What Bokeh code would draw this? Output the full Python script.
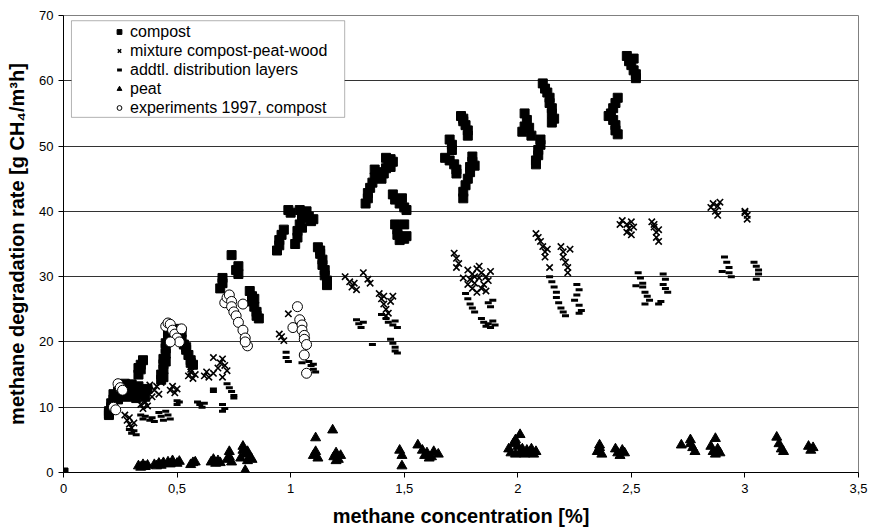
from bokeh.plotting import figure
from bokeh.models import (Legend, LegendItem, FixedTicker, BoxAnnotation)
from bokeh.embed import file_html
from bokeh.resources import INLINE

# ---------------- data ----------------
compost_x = [0.0,
    0.20, 0.20, 0.21, 0.21, 0.22, 0.20, 0.21,
    0.23, 0.24, 0.25, 0.26, 0.27, 0.28, 0.29, 0.30, 0.31, 0.32, 0.33, 0.34, 0.35, 0.26, 0.28, 0.30, 0.32, 0.24, 0.37, 0.36, 0.22,
    0.33, 0.34, 0.34, 0.35, 0.33,
    0.43, 0.43, 0.44, 0.44, 0.44, 0.45, 0.45, 0.45, 0.46, 0.46, 0.47, 0.44, 0.45,
    0.50, 0.51, 0.52, 0.53, 0.54, 0.55, 0.56, 0.57, 0.52, 0.54, 0.56,
    0.69, 0.70, 0.70, 0.74, 0.76, 0.77, 0.77, 0.82, 0.83, 0.83, 0.84, 0.85, 0.85, 0.86, 0.84,
    0.94, 0.95, 0.95, 0.96, 0.97, 0.99, 1.00,
    1.02, 1.03, 1.03, 1.04, 1.05, 1.04, 1.06, 1.08, 1.09, 1.10, 1.07, 1.05,
    1.12, 1.13, 1.14, 1.14, 1.15, 1.15, 1.16, 1.16, 1.13,
    1.33, 1.34, 1.34, 1.35, 1.36, 1.37, 1.38, 1.37,
    1.40, 1.41, 1.42, 1.43, 1.44, 1.45, 1.42, 1.44,
    1.45, 1.46, 1.48, 1.50, 1.51, 1.49,
    1.46, 1.47, 1.47, 1.48, 1.50, 1.51, 1.50,
    1.70, 1.71, 1.71, 1.68, 1.70, 1.72, 1.73, 1.73,
    1.75, 1.76, 1.77, 1.78, 1.78, 1.76,
    1.80, 1.80, 1.79, 1.79, 1.78, 1.77, 1.76, 1.76, 1.81,
    2.03, 2.04, 2.03, 2.02, 2.05, 2.06,
    2.10, 2.10, 2.09, 2.09, 2.08, 2.08,
    2.11, 2.12, 2.13, 2.14, 2.14, 2.15, 2.15, 2.16, 2.15,
    2.44, 2.43, 2.42, 2.41, 2.40, 2.42, 2.43, 2.43, 2.44,
    2.48, 2.49, 2.50, 2.51, 2.52, 2.52, 2.51]
compost_y = [0.0,
    8.8, 9.4, 10.0, 10.6, 11.2, 9.0, 9.8,
    11.8, 12.4, 13.0, 13.4, 13.6, 13.2, 12.8, 13.5, 13.0, 12.4, 13.2, 12.6, 12.0, 12.2, 11.6, 12.0, 11.4, 11.2, 12.8, 11.6, 12.0,
    15.0, 15.8, 16.5, 17.2, 16.0,
    14.2, 15.0, 15.8, 16.6, 17.4, 18.2, 19.0, 19.8, 20.6, 21.4, 22.0, 14.6, 17.0,
    22.0, 21.2, 20.4, 19.6, 18.8, 18.0, 17.2, 16.5, 21.5, 19.2, 16.8,
    28.2, 29.0, 29.8, 33.3, 31.0, 31.6, 30.4, 27.8, 27.0, 26.2, 25.4, 24.6, 24.0, 23.6, 26.6,
    34.0, 34.8, 35.6, 36.4, 37.2, 40.2, 39.8,
    35.0, 36.0, 37.0, 38.0, 39.0, 40.2, 39.8, 39.2, 38.5, 38.8, 40.0, 37.5,
    34.5, 33.5, 32.6, 31.8, 31.0, 30.2, 29.4, 28.7, 34.0,
    41.2, 42.0, 42.8, 43.6, 44.4, 45.2, 46.0, 46.4,
    45.0, 45.8, 46.6, 47.4, 48.0, 47.6, 48.2, 46.8,
    42.6, 41.8, 41.2, 40.6, 40.2, 42.0,
    38.0, 37.2, 36.4, 35.6, 35.8, 36.2, 38.0,
    51.0, 50.2, 49.4, 48.2, 47.8, 47.2, 46.4, 45.8,
    54.6, 53.8, 53.2, 52.4, 51.6, 54.2,
    48.4, 47.6, 46.8, 46.0, 45.0, 44.0, 43.0, 42.0, 47.0,
    55.0, 54.0, 53.0, 52.2, 52.8, 51.6,
    51.0, 50.2, 49.4, 48.6, 47.8, 47.2,
    59.6, 58.8, 58.2, 57.4, 56.6, 55.8, 55.0, 54.2, 53.6,
    57.4, 56.6, 55.8, 55.0, 54.6, 54.0, 53.2, 52.4, 51.8,
    63.8, 63.0, 62.4, 61.6, 61.0, 60.4, 63.4]

mixture_x = [0.27, 0.28, 0.29, 0.30, 0.31, 0.29,
    0.34, 0.35, 0.37, 0.36,
    0.34, 0.36, 0.38, 0.40, 0.41, 0.42, 0.39, 0.43,
    0.47, 0.48, 0.49, 0.50,
    0.55, 0.56, 0.57, 0.58, 0.56,
    0.62, 0.63, 0.64,
    0.66, 0.68, 0.69, 0.70, 0.71, 0.72, 0.70, 0.66,
    0.96, 0.97, 0.95, 0.99, 1.04, 1.05, 1.06, 1.07, 1.05,
    1.24, 1.26, 1.27, 1.28, 1.29,
    1.32, 1.34, 1.35,
    1.39, 1.40, 1.41, 1.42, 1.43, 1.44, 1.45, 1.41, 1.42,
    1.72, 1.73, 1.74, 1.73,
    1.78, 1.80, 1.82, 1.84, 1.86, 1.79, 1.81, 1.83, 1.85, 1.87, 1.80, 1.82, 1.84, 1.86, 1.78, 1.76, 1.88, 1.83, 1.81,
    2.08, 2.09, 2.10, 2.11, 2.12, 2.12, 2.13, 2.14,
    2.19, 2.20, 2.20, 2.21, 2.22, 2.23, 2.22,
    2.46, 2.48, 2.49, 2.50, 2.51, 2.48, 2.50, 2.45,
    2.59, 2.60, 2.61, 2.61, 2.62, 2.60, 2.62,
    2.85, 2.86, 2.87, 2.88, 2.88, 2.89,
    3.00, 3.01, 3.01, 3.00]
mixture_y = [8.8, 8.0, 7.4, 6.8, 7.6, 8.4,
    10.4, 9.8, 10.2, 10.8,
    12.0, 12.8, 13.4, 12.6, 13.2, 12.0, 11.6, 13.8,
    12.6, 13.2, 12.2, 12.8,
    14.8, 15.4, 14.4, 15.0, 15.8,
    14.8, 15.4, 14.6,
    15.2, 16.0, 16.8, 17.4, 16.4, 15.6, 14.6, 17.6,
    20.8, 20.2, 21.2, 24.3, 22.5, 21.8, 21.0, 20.2, 23.0,
    30.0, 29.2, 28.4, 29.0, 28.0,
    30.6, 29.6, 29.0,
    27.4, 26.6, 25.8, 25.0, 24.4, 26.2, 27.0, 27.0, 24.0,
    33.6, 32.8, 32.0, 31.4,
    31.0, 30.4, 31.2, 30.6, 30.0, 29.6, 29.0, 29.8, 28.8, 29.4, 28.2, 27.6, 28.2, 27.8, 28.8, 29.8, 30.8, 31.6, 30.0,
    36.6, 36.0, 35.4, 34.6, 33.8, 33.0, 34.2, 31.4,
    34.6, 33.8, 33.0, 32.2, 31.4, 34.2, 30.6,
    38.6, 38.0, 37.4, 38.4, 37.6, 36.8, 36.4, 38.0,
    38.4, 37.6, 36.8, 36.0, 35.4, 38.0, 37.2,
    40.6, 41.2, 40.0, 40.8, 39.4, 41.4,
    40.0, 39.4, 38.8, 39.8]

layers_x = [0.29, 0.30, 0.31, 0.32,
    0.34, 0.35, 0.36, 0.38, 0.39, 0.40,
    0.42, 0.43, 0.44, 0.45, 0.46, 0.47,
    0.50, 0.50, 0.51,
    0.59, 0.60, 0.61, 0.62,
    0.66, 0.66,
    0.72, 0.73, 0.74, 0.75, 0.75,
    0.70, 0.71, 0.70,
    0.98, 0.98, 0.99,
    1.08, 1.09, 1.10, 1.11, 1.10, 1.05,
    1.29, 1.30, 1.31, 1.32,
    1.36,
    1.40, 1.42, 1.43, 1.45, 1.46, 1.47,
    1.44, 1.45, 1.46, 1.46, 1.47,
    1.77, 1.78, 1.79, 1.80, 1.81,
    1.84, 1.85, 1.86, 1.87, 1.88, 1.89, 1.90,
    1.87, 1.88, 1.89,
    2.14, 2.15, 2.16, 2.17, 2.17, 2.18, 2.19, 2.20, 2.21,
    2.26, 2.27, 2.26, 2.25, 2.27, 2.28, 2.27,
    2.53, 2.54, 2.55, 2.55, 2.56, 2.57, 2.58, 2.52, 2.56,
    2.64, 2.65, 2.64, 2.65, 2.66, 2.63, 2.62,
    2.91, 2.92, 2.93, 2.93, 2.94, 2.90,
    3.04, 3.05, 3.06, 3.06, 3.05]
layers_y = [6.6, 6.0, 6.4, 5.8,
    8.8, 8.2, 8.6, 8.0, 8.4, 7.8,
    9.2, 8.6, 8.0, 9.4, 8.8, 8.2,
    11.0, 10.4, 10.8,
    10.8, 10.4, 10.0, 10.6,
    12.8, 12.4,
    13.6, 13.0, 12.4, 11.8, 11.4,
    10.4, 9.8, 9.4,
    18.4, 17.6, 17.0,
    17.0, 16.4, 15.8, 15.4, 16.6, 16.8,
    23.4, 22.8, 22.2, 23.0,
    19.6,
    24.2, 23.6, 23.0, 22.6, 23.2, 22.2,
    20.4, 19.8, 19.2, 18.6, 18.3,
    27.4, 26.6, 25.8, 25.2, 24.6,
    23.6, 23.0, 22.4, 22.8, 22.2, 23.2, 22.6,
    26.0, 25.4, 26.4,
    30.0, 29.2, 28.4, 27.6, 26.8, 26.0, 25.2, 24.6, 24.0,
    28.8, 28.0, 27.2, 26.4, 25.6, 24.8, 24.4,
    30.6, 29.8, 29.0, 28.4, 27.6, 27.0, 26.4, 28.6, 25.8,
    30.4, 29.6, 28.8, 28.2, 27.6, 26.2, 25.8,
    33.0, 32.2, 31.4, 30.6, 30.0, 30.8,
    32.2, 31.6, 31.0, 30.4, 29.6]

peat_x = [0.33, 0.34, 0.35, 0.36, 0.37,
    0.40, 0.41, 0.42, 0.43, 0.44,
    0.46, 0.47, 0.48, 0.50, 0.51,
    0.56, 0.57, 0.58,
    0.65, 0.66, 0.67, 0.68, 0.69,
    0.72, 0.73, 0.74, 0.73,
    0.78, 0.79, 0.79, 0.80, 0.81, 0.82, 0.83, 0.80, 0.81,
    1.10, 1.11, 1.11, 1.12,
    1.185, 1.19, 1.20, 1.21, 1.22, 1.20,
    1.48, 1.49, 1.49,
    1.56, 1.58, 1.59, 1.60, 1.62, 1.63, 1.65, 1.61,
    1.96, 1.98, 1.99, 2.00, 2.01, 2.01, 2.02, 2.03, 2.04, 2.05, 2.06, 2.07, 2.08, 1.97, 1.99,
    2.35, 2.36, 2.37, 2.36,
    2.43, 2.44, 2.45, 2.46, 2.47,
    2.72, 2.76, 2.77, 2.78, 2.76,
    2.85, 2.86, 2.87, 2.88, 2.89, 2.87,
    3.14, 3.15, 3.16, 3.17,
    3.28, 3.29, 3.30]
peat_y = [1.0, 0.8, 1.2, 0.9, 1.1,
    1.2, 1.0, 1.4, 1.1, 1.5,
    1.6, 1.3, 1.8, 1.4, 1.7,
    1.2, 1.5, 1.6,
    1.6, 2.0, 1.4, 1.8, 1.5,
    2.0, 3.2, 1.6, 2.4,
    2.2, 3.4, 4.0, 2.8, 1.8, 2.4, 2.0, 0.3, 3.2,
    2.6, 3.2, 5.3, 2.2,
    6.5, 2.4, 3.0, 2.0, 2.6, 1.8,
    3.4, 2.6, 1.0,
    4.2, 3.4, 2.6, 3.0, 2.4, 3.2, 2.8, 2.2,
    3.6, 4.4, 5.0, 4.0, 5.8, 3.0, 3.6, 2.8, 3.4, 3.0, 3.6, 2.8, 3.2, 3.0, 2.8,
    3.2, 3.8, 2.8, 4.2,
    3.6, 3.0, 2.6, 3.4, 3.0,
    4.2, 5.0, 3.8, 3.2, 4.4,
    4.0, 3.2, 5.2, 3.6, 3.0, 2.8,
    5.4, 4.4, 3.6, 3.2,
    4.0, 3.4, 3.8]

exp1997_x = [0.22, 0.23, 0.24, 0.25, 0.26,
    0.45, 0.46, 0.47, 0.48, 0.49, 0.50, 0.51, 0.52, 0.47,
    0.71, 0.72, 0.73, 0.74, 0.74, 0.75, 0.76, 0.77, 0.79, 0.79, 0.80, 0.81, 0.80,
    1.01, 1.03, 1.04, 1.05, 1.05, 1.06, 1.06, 1.07, 1.06, 1.07]
exp1997_y = [10.0, 9.6, 13.6, 13.0, 12.6,
    22.4, 22.9, 22.7, 21.8, 21.2, 20.6, 20.0, 22.0, 20.0,
    26.0, 26.8, 27.2, 26.2, 25.4, 24.6, 24.0, 23.0, 25.8, 21.8, 20.6, 19.4, 20.0,
    22.2, 25.4, 23.4, 22.6, 21.8, 21.0, 20.4, 19.6, 18.0, 15.2]

x_ticks = [0, 0.5, 1, 1.5, 2, 2.5, 3, 3.5]
x_tick_labels = ["0", "0,5", "1", "1,5", "2", "2,5", "3", "3,5"]
y_ticks = [0, 10, 20, 30, 40, 50, 60, 70]

legend_labels = ["compost", "mixture compost-peat-wood", "addtl. distribution layers",
                 "peat", "experiments 1997, compost"]

FONT = "Liberation Sans"

p = figure(width=868, height=529, x_range=(0, 3.5), y_range=(0, 70),
           output_backend="svg", toolbar_location=None,
           min_border_left=63, min_border_right=10, min_border_top=15, min_border_bottom=52)

p.background_fill_color = "white"
p.outline_line_color = "#808080"
p.xgrid.visible = False
p.ygrid.grid_line_color = "#333333"
p.ygrid.grid_line_width = 1
p.ygrid.ticker = FixedTicker(ticks=y_ticks)

p.xaxis.ticker = FixedTicker(ticks=x_ticks)
p.xaxis.major_label_overrides = {t: l for t, l in zip(x_ticks, x_tick_labels)}
p.yaxis.ticker = FixedTicker(ticks=y_ticks)
for ax in (p.xaxis[0], p.yaxis[0]):
    ax.axis_line_color = "black"
    ax.major_tick_line_color = "black"
    ax.major_tick_in = 0
    ax.major_tick_out = 5
    ax.minor_tick_line_color = None
    ax.major_label_text_font = FONT
    ax.major_label_text_font_size = "13px"
    ax.major_label_text_color = "black"
    ax.axis_label_text_font = FONT
    ax.axis_label_text_font_style = "bold"
    ax.axis_label_text_font_size = "20px"
    ax.axis_label_text_color = "black"
p.xaxis.axis_label = "methane concentration [%]"
p.yaxis.axis_label = "methane degradation rate [g CH\u2084/m\u00b3h]"
p.xaxis.major_label_standoff = 6
p.xaxis.axis_label_standoff = 9
p.yaxis.major_label_standoff = 5
p.yaxis.axis_label_standoff = 8

r_comp = p.scatter(compost_x, compost_y, marker="square", size=9,
                   fill_color="black", line_color="black")
r_mix = p.scatter(mixture_x, mixture_y, marker="x", size=9,
                  line_color="black", line_width=1.6)
r_lay = p.scatter(layers_x, layers_y, marker="dash", size=7,
                  line_color="black", line_width=3)
r_peat = p.scatter(peat_x, peat_y, marker="triangle", size=10,
                   fill_color="black", line_color="black")
r_exp = p.scatter(exp1997_x, exp1997_y, marker="circle", size=10,
                  fill_color="white", line_color="black", line_width=1)

box = BoxAnnotation(left=0.035, right=1.238, top=69.2, bottom=54.4,
                    fill_color="white", fill_alpha=1.0,
                    line_color="black", line_width=1, level="overlay")
p.add_layout(box)

legend = Legend(items=[LegendItem(label=l, renderers=[r]) for l, r in
                       zip(legend_labels, [r_comp, r_mix, r_lay, r_peat, r_exp])],
                location=(50, 355), orientation="vertical",
                border_line_alpha=0, background_fill_alpha=0,
                padding=0, spacing=0, margin=0,
                glyph_width=12, glyph_height=19, label_height=19,
                label_standoff=5, label_text_font=FONT,
                label_text_font_size="16px", label_text_color="black")
p.add_layout(legend, "center")

open("out.html", "w").write(file_html(p, INLINE))
